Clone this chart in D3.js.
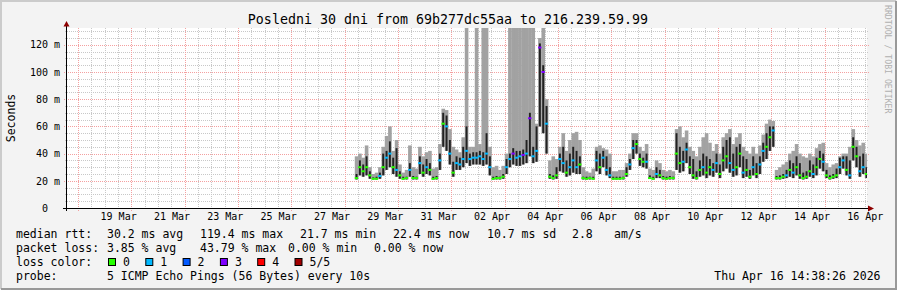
<!DOCTYPE html>
<html>
<head>
<meta charset="utf-8">
<script src="https://cdn.jsdelivr.net/npm/d3@7"></script>
<style>
html, body { margin: 0; padding: 0; background: #f3f3f3; }
svg { display: block; }
text { font-family: "DejaVu Sans Mono", monospace; white-space: pre; }
</style>
</head>
<body>
<svg id="chart" width="897" height="290"></svg>
<script>
// ---- data (one value per 3 hours from 28 Mar 09:00 UTC) ----
var firstSample = "2026-03-28T09:00:00Z";
var stepHours = 3;

var medianRtt = [
  22, 30, 27, 30, 24,
  21.5, 21.5, 23.5, 30, 37, 40, 30, 28,
  24, 21.5, 22, 28, 22, 22, 33, 26,
  30, 28, 21.5, 22, 35, 62, 60, 40,
  26, 33, 32, 36, 42, 36, 37, 37,
  38, 36, 40, 30, 21.5, 22, 22, 23,
  30, 36, 40, 37, 38, 39, 40, 66,
  38, 42, 118, 100, 62, 23, 22, 24,
  36, 33, 26, 30, 35, 30, 32, 22,
  21.5, 22, 21.5, 35, 30, 37, 28, 24,
  21.5, 21.5, 21.5, 22, 25, 32, 44, 47,
  36, 34, 34, 22, 21.5, 25, 24, 22,
  21.5, 22, 22, 40, 33, 34, 43, 30,
  24, 22, 28, 30, 26, 30, 28, 33,
  25, 35, 38, 33, 28, 30, 40, 26,
  28, 23, 30, 25, 32, 42, 45, 52,
  57, 22, 22, 23, 24, 28, 26, 30,
  24, 22, 23, 27, 25, 30, 36, 34,
  24, 22, 23, 24, 30, 35, 28, 24,
  45, 38, 27, 30, 25
];

var smokeLow = [
  21, 24, 23, 24, 21.5,
  21, 21, 21.5, 24, 28, 30, 25, 23,
  21.5, 21, 21, 23, 21, 21, 25, 23,
  25, 24, 21, 21, 28, 45, 42, 32,
  23, 28, 28, 30, 33, 31, 32, 32,
  32, 31, 32, 24, 21, 21, 21, 21.5,
  25, 30, 32, 31, 31, 32, 33, 38,
  33, 34, 60, 55, 40, 21.5, 21, 21.5,
  27, 26, 23, 24, 26, 25, 25, 21,
  21, 21, 21, 27, 25, 30, 24, 22,
  21, 21, 21, 21, 23, 28, 36, 40,
  31, 30, 29, 21.5, 21, 22, 22, 21,
  21, 21, 21, 28, 26, 27, 33, 25,
  21.5, 21, 23, 24, 22, 24, 23, 26,
  22, 27, 29, 26, 23, 24, 30, 22,
  23, 21.5, 24, 22, 25, 34, 36, 42,
  45, 21, 21, 21.5, 22, 23, 22, 24,
  21.5, 21, 21.5, 23, 22, 24, 29, 27,
  22, 21, 21.5, 22, 25, 29, 24, 21.5,
  35, 30, 23, 25, 22
];

var smokeDark = [
  25, 35, 32, 38, 27,
  22.5, 23, 26, 40, 42, 49, 37, 44,
  27, 23, 23, 33, 23.5, 23, 38, 32,
  36, 33, 23, 23.5, 40, 70, 68, 50,
  34, 38, 37, 45, 60, 40, 41, 41,
  42, 41, 55, 38, 23, 23.5, 23, 25,
  36, 40, 44, 42, 42, 43, 50, 70,
  45, 60, 121, 105, 75, 25, 24, 30,
  40, 45, 35, 40, 45, 42, 38, 23,
  23, 23, 23, 42, 40, 42, 38, 30,
  23, 23, 23, 23, 30, 36, 50, 50,
  40, 37, 40, 24, 23, 30, 28, 23.5,
  23, 23.5, 23, 55, 45, 42, 48, 38,
  36, 27, 35, 40, 38, 36, 33, 40,
  32, 45, 50, 52, 40, 45, 47, 38,
  36, 28, 38, 33, 38, 48, 55, 60,
  60, 23.5, 24, 25, 28, 35, 33, 38,
  33, 26, 27, 35, 32, 37, 42, 40,
  28, 24, 25, 29, 37, 38, 38, 35,
  52, 45, 38, 40, 30
];

var smokeHigh = [
  38, 40, 37, 46, 30,
  25, 26, 30, 45, 53, 60, 42, 50,
  32, 26, 28, 46, 30, 29, 45, 38,
  41, 42, 29, 30, 47, 73, 72, 58,
  45, 43, 41, 52, 135, 45, 45, 135,
  47, 135, 135, 45, 30, 31, 28, 31,
  40, 135, 135, 135, 135, 135, 135, 135,
  135, 62, 125, 135, 80, 35, 38, 36,
  45, 55, 42, 50, 55, 56, 50, 30,
  27, 26, 29, 45, 46, 44, 43, 40,
  27, 27, 28, 28, 33, 40, 55, 55,
  45, 42, 47, 29, 28, 35, 33, 28,
  27, 28, 27, 58, 60, 52, 57, 45,
  42, 38, 45, 52, 55, 48, 42, 47,
  40, 52, 55, 58, 47, 52, 55, 45,
  42, 40, 45, 40, 46, 54, 62, 65,
  64, 28, 30, 32, 34, 40, 42, 47,
  40, 38, 37, 40, 38, 44, 47, 48,
  33, 30, 32, 33, 38, 40, 40, 45,
  58, 50, 46, 48, 40
];

var lossCount = [
  0, 0, 0, 0, 0,
  0, 0, 1, 0, 1, 1, 0, 1,
  0, 0, 0, 1, 0, 0, 1, 0,
  1, 0, 0, 0, 1, 0, 1, 1,
  0, 1, 1, 1, 1, 1, 1, 1,
  1, 1, 1, 1, 0, 0, 0, 0,
  1, 1, 3, 1, 1, 3, 1, 3,
  1, 1, 3, 3, 1, 0, 0, 0,
  1, 1, 0, 1, 1, 1, 0, 0,
  0, 0, 0, 1, 0, 1, 1, 1,
  0, 0, 0, 0, 0, 1, 1, 0,
  0, 0, 1, 0, 0, 1, 0, 0,
  0, 0, 0, 0, 0, 1, 1, 0,
  0, 0, 0, 1, 0, 0, 1, 1,
  0, 0, 0, 1, 1, 0, 0, 1,
  0, 0, 1, 0, 1, 1, 0, 0,
  1, 0, 0, 0, 1, 0, 1, 0,
  0, 0, 0, 0, 1, 0, 0, 1,
  0, 0, 0, 0, 1, 1, 0, 1,
  0, 0, 1, 1, 0
];

var lossColors = ["#26ff00", "#00b8ff", "#0059ff", "#7e00ff", "#ff0000", "#a10000"];
var lossLabels = ["0", "1", "2", "3", "4", "5/5"];

var yTicks = [0, 20, 40, 60, 80, 100, 120];
var xLabelDays = ["2026-03-19", "2026-03-21", "2026-03-23", "2026-03-25", "2026-03-27", "2026-03-29",
                  "2026-03-31", "2026-04-02", "2026-04-04", "2026-04-06", "2026-04-08", "2026-04-10",
                  "2026-04-12", "2026-04-14", "2026-04-16"];

var titleText = "Posledni 30 dni from 69b277dc55aa to 216.239.59.99";
var rttStats = ["median rtt:", "30.2 ms avg", "119.4 ms max", "21.7 ms min", "22.4 ms now", "10.7 ms sd", "2.8", "am/s"];
var lossStats = ["packet loss:", "3.85 % avg", "43.79 % max", "0.00 % min", "0.00 % now"];
var probeText = ["probe:", "5 ICMP Echo Pings (56 Bytes) every 10s"];
var stampText = "Thu Apr 16 14:38:26 2026";

// ---- chart ----
var drawChart = function() {
  var svg = d3.select("#chart");
  var W = 897, H = 290;
  var cLeft = 67, cRight = 867, cTop = 28, cBottom = 208;

  var x = d3.scaleUtc()
      .domain([new Date("2026-03-17T14:00:00Z"), new Date("2026-04-16T14:00:00Z")])
      .range([cLeft, cRight]);
  var y = d3.scaleLinear().domain([0, 132.35]).range([cBottom, cTop]);

  //frame
  svg.append("rect").attr("width", W).attr("height", H).attr("fill", "#f3f3f3");
  svg.append("path").attr("d", "M1,289 L1,1 L896,1").attr("fill", "none").attr("stroke", "#cbcbcb").attr("stroke-width", 2);
  svg.append("path").attr("d", "M1,289 L896,289 L896,1").attr("fill", "none").attr("stroke", "#999999").attr("stroke-width", 2);

  svg.append("rect").attr("x", cLeft).attr("y", cTop).attr("width", cRight - cLeft).attr("height", cBottom - cTop).attr("fill", "#ffffff");

  svg.append("defs").append("clipPath").attr("id", "canvas")
    .append("rect").attr("x", cLeft).attr("y", cTop).attr("width", cRight - cLeft).attr("height", cBottom - cTop);

  var px = function(v) { return Math.round(v) + 0.5; };

  //grid
  var grid = svg.append("g").attr("class", "grid");
  var t0 = x.domain()[0], t1 = x.domain()[1];
  var minorX = d3.utcHour.every(12).range(t0, t1);
  var majorX = d3.utcDay.range(t0, t1).filter(function(d) {
      return Math.round((d - new Date("2026-03-18T00:00:00Z")) / 864e5) % 2 === 0;
  });
  var minorY = d3.range(5, 132, 5).filter(function(v) { return v % 20 !== 0; });
  var majorY = yTicks.filter(function(v) { return v > 0; });

  grid.selectAll("line.minx").data(minorX).enter().append("line").attr("class", "minx")
    .attr("x1", function(d) { return px(x(d)); }).attr("x2", function(d) { return px(x(d)); })
    .attr("y1", cTop).attr("y2", cBottom + 2)
    .attr("stroke", "#c8c8c8").attr("stroke-dasharray", "1,1");
  grid.selectAll("line.miny").data(minorY).enter().append("line").attr("class", "miny")
    .attr("x1", cLeft - 2).attr("x2", cRight + 2)
    .attr("y1", function(d) { return px(y(d)); }).attr("y2", function(d) { return px(y(d)); })
    .attr("stroke", "#c8c8c8").attr("stroke-dasharray", "1,1");
  grid.selectAll("line.majx").data(majorX).enter().append("line").attr("class", "majx")
    .attr("x1", function(d) { return px(x(d)); }).attr("x2", function(d) { return px(x(d)); })
    .attr("y1", cTop).attr("y2", cBottom + 3)
    .attr("stroke", "#f4a0a0").attr("stroke-dasharray", "1,1");
  grid.selectAll("line.majy").data(majorY).enter().append("line").attr("class", "majy")
    .attr("x1", cLeft - 3).attr("x2", cRight + 3)
    .attr("y1", function(d) { return px(y(d)); }).attr("y2", function(d) { return px(y(d)); })
    .attr("stroke", "#f4a0a0").attr("stroke-dasharray", "1,1");

  //smoke + median
  var start = new Date(firstSample);
  var samples = medianRtt.map(function(m, i) {
      var ts = d3.utcHour.offset(start, i * stepHours);
      return { t: ts, t2: d3.utcHour.offset(ts, stepHours), med: m,
               lo: smokeLow[i], dk: smokeDark[i], hi: smokeHigh[i], loss: lossCount[i] };
  });

  var plot = svg.append("g").attr("clip-path", "url(#canvas)");

  plot.selectAll("rect.smoke").data(samples).enter().append("rect").attr("class", "smoke")
    .attr("x", function(d) { return x(d.t); })
    .attr("width", function(d) { return x(d.t2) - x(d.t) + 0.3; })
    .attr("y", function(d) { return y(d.hi); })
    .attr("height", function(d) { return y(d.lo) - y(d.hi); })
    .attr("fill", "#a2a2a2");

  //dark core: thin streak in the middle of each step
  plot.selectAll("rect.dark").data(samples).enter().append("rect").attr("class", "dark")
    .attr("x", function(d) { return x(d.t) + 0.8; })
    .attr("width", function(d) { return x(d.t2) - x(d.t) - 1.4; })
    .attr("y", function(d) { return y(d.dk); })
    .attr("height", function(d) { return y(d.lo) - y(d.dk); })
    .attr("fill", "#222222");

  plot.selectAll("rect.med").data(samples).enter().append("rect").attr("class", "med")
    .attr("x", function(d) { return x(d.t); })
    .attr("width", function(d) { return x(d.t2) - x(d.t); })
    .attr("y", function(d) { return y(d.med) - 1; })
    .attr("height", 2)
    .attr("fill", function(d) { return lossColors[d.loss]; });

  //axes
  var yAxis = svg.append("g").attr("transform", "translate(66,0)")
    .call(d3.axisLeft(y).tickValues(yTicks).tickSize(0).tickPadding(6)
          .tickFormat(function(d) { return d === 0 ? "0  " : d + " m"; }));
  yAxis.select(".domain").remove();
  yAxis.selectAll("text").attr("xml:space", "preserve")
    .style("font-family", "'DejaVu Sans Mono', monospace").style("font-size", "10px").attr("fill", "#000");

  var labelDates = xLabelDays.map(function(s) { return d3.utcHour.offset(new Date(s + "T00:00:00Z"), 12); });
  var xAxis = svg.append("g").attr("transform", "translate(0," + cBottom + ")")
    .call(d3.axisBottom(x).tickValues(labelDates).tickSize(0).tickPadding(5)
          .tickFormat(d3.utcFormat("%d %b")));
  xAxis.select(".domain").remove();
  xAxis.selectAll("text")
    .style("font-family", "'DejaVu Sans Mono', monospace").style("font-size", "10px").attr("fill", "#000");

  svg.append("line").attr("x1", 66.5).attr("x2", 66.5).attr("y1", cBottom + 3).attr("y2", 24)
    .attr("stroke", "#000");
  svg.append("line").attr("x1", 63).attr("x2", 869).attr("y1", cBottom + 0.5).attr("y2", cBottom + 0.5)
    .attr("stroke", "#000");
  svg.append("path").attr("d", "M63.5,26.5 L69.5,26.5 L66.5,21 Z").attr("fill", "#8e0000");
  svg.append("path").attr("d", "M868,205.5 L868,211.5 L874,208.5 Z").attr("fill", "#8e0000");

  //labels
  svg.append("text").attr("x", 448).attr("y", 24).attr("text-anchor", "middle")
    .style("font-size", "13.3px").attr("fill", "#000").text(titleText);

  svg.append("text").attr("transform", "translate(14.5,118) rotate(-90)").attr("text-anchor", "middle")
    .style("font-size", "11.5px").attr("fill", "#000").text("Seconds");

  svg.append("text").attr("transform", "translate(884.5,5) rotate(90)").attr("text-anchor", "start")
    .style("font-size", "8.2px").attr("fill", "#b0b0b0").text("RRDTOOL / TOBI OETIKER");

  var legend = svg.append("g").style("font-size", "11.5px").attr("fill", "#000");
  var rttX = [16, 107, 200, 300, 393, 487, 572, 614];
  legend.selectAll("text.rtt").data(rttStats).enter().append("text").attr("class", "rtt")
    .attr("x", function(d, i) { return rttX[i]; }).attr("y", 237.5).text(function(d) { return d; });
  var lossX = [16, 107, 200, 288, 374];
  legend.selectAll("text.pl").data(lossStats).enter().append("text").attr("class", "pl")
    .attr("x", function(d, i) { return lossX[i]; }).attr("y", 251.5).text(function(d) { return d; });

  legend.append("text").attr("x", 16).attr("y", 265.5).text("loss color:");
  var keys = legend.selectAll("g.key").data(lossLabels).enter().append("g").attr("class", "key")
    .attr("transform", function(d, i) { return "translate(" + (108 + i * 37.3) + ",0)"; });
  keys.append("rect").attr("x", 0.5).attr("y", 258.5).attr("width", 7).attr("height", 7)
    .attr("fill", function(d, i) { return lossColors[i]; }).attr("stroke", "#000");
  keys.append("text").attr("x", 15).attr("y", 265.5).text(function(d) { return d; });

  legend.append("text").attr("x", 16).attr("y", 279.5).text(probeText[0]);
  legend.append("text").attr("x", 107).attr("y", 279.5).text(probeText[1]);
  legend.append("text").attr("x", 880.5).attr("y", 279.5).attr("text-anchor", "end").text(stampText);
};

drawChart();
</script>
</body>
</html>
